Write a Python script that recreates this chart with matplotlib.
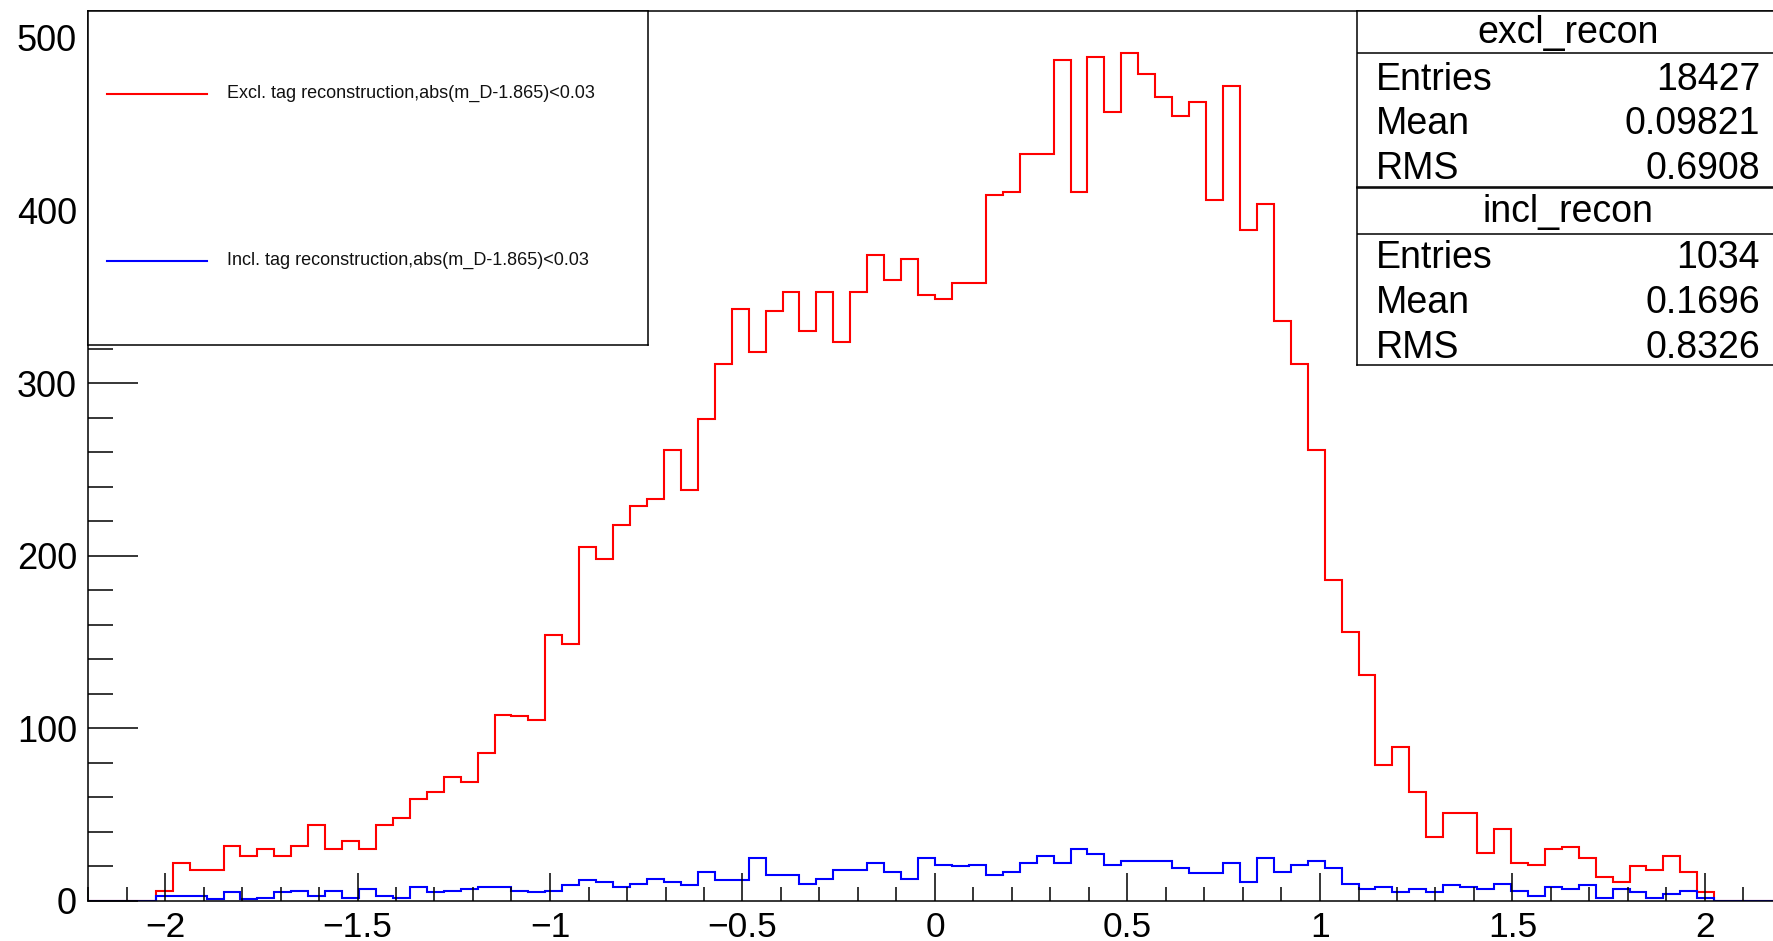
import numpy as np
import matplotlib
matplotlib.use("Agg")
import matplotlib.pyplot as plt
from matplotlib.lines import Line2D

plt.rcParams['font.family'] = ['Liberation Sans', 'DejaVu Sans']

# ---------------- data ----------------
x_min, x_max, n_bins = -2.2, 2.2, 100

excl_counts = [
    0, 0, 0, 0, 6, 22, 18, 18, 32, 26,
    30, 26, 32, 44, 30, 35, 30, 44, 48, 59,
    63, 72, 69, 86, 108, 107, 105, 154, 149, 205,
    198, 218, 229, 233, 261, 238, 279, 311, 343, 318,
    342, 353, 330, 353, 324, 353, 374, 360, 372, 351,
    349, 358, 358, 409, 411, 433, 433, 487, 411, 489,
    457, 491, 479, 466, 455, 463, 406, 472, 389, 404,
    336, 311, 261, 186, 156, 131, 79, 89, 63, 37,
    51, 51, 28, 42, 22, 21, 30, 31, 25, 14,
    11, 20, 18, 26, 17, 5, 0, 0, 0, 0,
]

incl_counts = [
    0, 0, 0, 0, 3, 3, 3, 1, 5, 1,
    2, 5, 6, 3, 6, 2, 7, 3, 2, 8,
    5, 6, 7, 8, 8, 6, 5, 6, 9, 12,
    11, 8, 10, 13, 11, 9, 17, 12, 12, 25,
    15, 15, 10, 13, 18, 18, 22, 17, 13, 25,
    21, 20, 21, 15, 17, 22, 26, 22, 30, 27,
    21, 23, 23, 23, 19, 16, 16, 22, 11, 25,
    17, 21, 23, 19, 10, 7, 8, 5, 7, 5,
    9, 8, 7, 10, 6, 3, 8, 7, 9, 2,
    7, 5, 2, 4, 6, 2, 0, 0, 0, 0,
]

x_major = [-2, -1.5, -1, -0.5, 0, 0.5, 1, 1.5, 2]
x_labels = ['\u22122', '\u22121.5', '\u22121', '\u22120.5', '0', '0.5', '1', '1.5', '2']
y_major = [0, 100, 200, 300, 400, 500]
y_max = 515.6

legend_labels = ['Excl. tag reconstruction,abs(m_D-1.865)<0.03',
                 'Incl. tag reconstruction,abs(m_D-1.865)<0.03']

excl_name, excl_stats = 'excl_recon', [('Entries', '18427'), ('Mean', '0.09821'), ('RMS', '0.6908')]
incl_name, incl_stats = 'incl_recon', [('Entries', '1034'), ('Mean', '0.1696'), ('RMS', '0.8326')]

RED = '#ff0000'
BLUE = '#0000ff'

# ---------------- figure ----------------
W, H = 1773, 941
fig = plt.figure(figsize=(W / 100, H / 100), dpi=100)


def rect(x0, y0, x1, y1):
    return [x0 / W, 1 - y1 / H, (x1 - x0) / W, (y1 - y0) / H]


ax = fig.add_axes(rect(88, 11, 1782, 901))
edges = np.linspace(x_min, x_max, n_bins + 1)
ax.stairs(excl_counts, edges, color=RED, lw=1.5, baseline=0)
ax.stairs(incl_counts, edges, color=BLUE, lw=1.5, baseline=0)

ax.set_xlim(x_min, x_max)
ax.set_ylim(0, y_max)
ax.set_xticks(x_major)
ax.set_xticklabels(x_labels)
ax.set_xticks(np.round(np.arange(-2.2, 2.2001, 0.1), 2), minor=True)
ax.set_yticks(y_major)
ax.set_yticks(np.arange(0, 520, 20), minor=True)

ax.tick_params(axis='x', which='major', direction='in', length=20, width=1.1,
               labelsize=25.5, pad=7)
ax.tick_params(axis='x', which='minor', direction='in', length=10, width=1.1)
ax.tick_params(axis='y', which='major', direction='in', length=36, width=1.1,
               labelsize=26, pad=8)
ax.tick_params(axis='y', which='minor', direction='in', length=18, width=1.1)
for s in ax.spines.values():
    s.set_linewidth(1.1)
    s.set_color('black')

# ---------------- legend box ----------------
lax = fig.add_axes(rect(88, 11, 648, 345))
lax.set_xlim(0, 1)
lax.set_ylim(0, 1)
lax.set_xticks([])
lax.set_yticks([])
lax.set_facecolor('white')
for s in lax.spines.values():
    s.set_linewidth(1.1)
    s.set_color('black')
for yy, col, lab in [(0.752, RED, legend_labels[0]), (0.252, BLUE, legend_labels[1])]:
    lax.add_line(Line2D([0.034, 0.2125], [yy, yy], color=col, lw=1.5))
    lax.text(0.248, yy, lab, fontsize=13, va='center', ha='left', color='#111111')


# ---------------- stats boxes ----------------
def stats_box(y0, y1, name, rows, title_y, line_y, row_y0):
    sax = fig.add_axes(rect(1357, y0, 1779, y1))
    sax.set_xlim(1357, 1779)
    sax.set_ylim(y1, y0)
    sax.set_xticks([])
    sax.set_yticks([])
    sax.set_facecolor('white')
    for s in sax.spines.values():
        s.set_linewidth(1.1)
        s.set_color('black')
    sax.axhline(line_y, color='black', lw=1.1)
    sax.text(1568, title_y, name, fontsize=27, ha='center', va='center')
    for i, (k, v) in enumerate(rows):
        yy = row_y0 + i * 44.6
        sax.text(1376, yy, k, fontsize=27, ha='left', va='center')
        sax.text(1760, yy, v, fontsize=27, ha='right', va='center')


stats_box(11, 187, excl_name, excl_stats, title_y=33, line_y=53, row_y0=79.6)
stats_box(188, 365, incl_name, incl_stats, title_y=212, line_y=234, row_y0=258.5)

fig.savefig('out.png', dpi=100)
